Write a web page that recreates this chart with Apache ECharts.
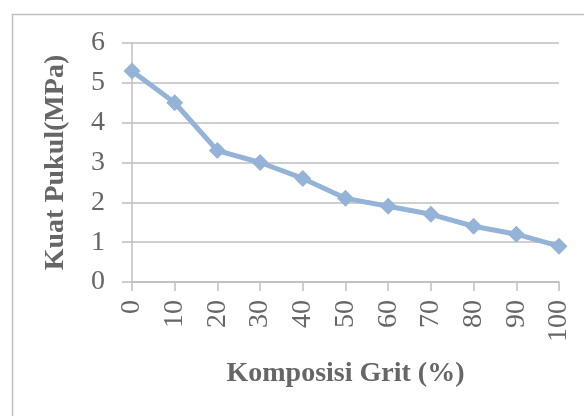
<!DOCTYPE html>
<html>
<head>
    <meta charset="utf-8">
    <script src="https://cdn.jsdelivr.net/npm/echarts@6/dist/echarts.min.js"></script>
    <style>
        html, body { margin: 0; padding: 0; background: #fff; }
    </style>
</head>
<body>
<div id="main" style="width: 584px;height:416px;"></div>
<script type="text/javascript">
    // komposisi grit (%) dan kuat pukul (MPa)
    var grit = [0, 10, 20, 30, 40, 50, 60, 70, 80, 90, 100];
    var kuatPukul = [5.3, 4.5, 3.3, 3.0, 2.6, 2.1, 1.9, 1.7, 1.4, 1.2, 0.9];

    var myChart = echarts.init(document.getElementById('main'));

    var points = [];
    for (var i = 0; i < grit.length; i++) {
        points.push([grit[i], kuatPukul[i]]);
    }

    var gray = '#666666';
    var font = '"Liberation Serif", "Times New Roman", serif';

    var option = {
        animation: false,
        backgroundColor: '#ffffff',
        graphic: [{
            type: 'rect',
            left: 10,
            top: 12,
            shape: { width: 600, height: 420 },
            style: { fill: 'none', stroke: '#bfbfbf', lineWidth: 1.5 },
            silent: true
        }],
        grid: { left: 132, right: 25, top: 43, bottom: 134 },
        xAxis: {
            type: 'value',
            min: 0,
            max: 100,
            interval: 10,
            name: 'Komposisi Grit (%)',
            nameLocation: 'middle',
            nameGap: 78,
            nameTextStyle: { color: gray, fontFamily: font, fontSize: 28, fontWeight: 'bold' },
            axisLine: { show: true, lineStyle: { color: '#bfbfbf', width: 1.5 } },
            axisTick: { show: true, length: 9, lineStyle: { color: '#bfbfbf', width: 1.5 } },
            axisLabel: { color: gray, fontFamily: font, fontSize: 28, rotate: 90, margin: 18 },
            splitLine: { show: false }
        },
        yAxis: {
            type: 'value',
            min: 0,
            max: 6,
            interval: 1,
            name: 'Kuat Pukul(MPa)',
            nameLocation: 'middle',
            nameGap: 62,
            nameTextStyle: { color: gray, fontFamily: font, fontSize: 28, fontWeight: 'bold' },
            axisLine: { show: true, lineStyle: { color: '#bfbfbf', width: 1.5 } },
            axisTick: { show: true, length: 10, lineStyle: { color: '#bfbfbf', width: 1.5 } },
            axisLabel: { color: gray, fontFamily: font, fontSize: 28, margin: 27 },
            splitLine: { show: true, lineStyle: { color: '#bfbfbf', width: 1.5 } }
        },
        series: [{
            type: 'line',
            data: points,
            symbol: 'diamond',
            symbolSize: 17,
            lineStyle: { color: '#95b3d7', width: 5 },
            itemStyle: { color: '#95b3d7' }
        }]
    };

    myChart.setOption(option);
</script>
</body>
</html>
